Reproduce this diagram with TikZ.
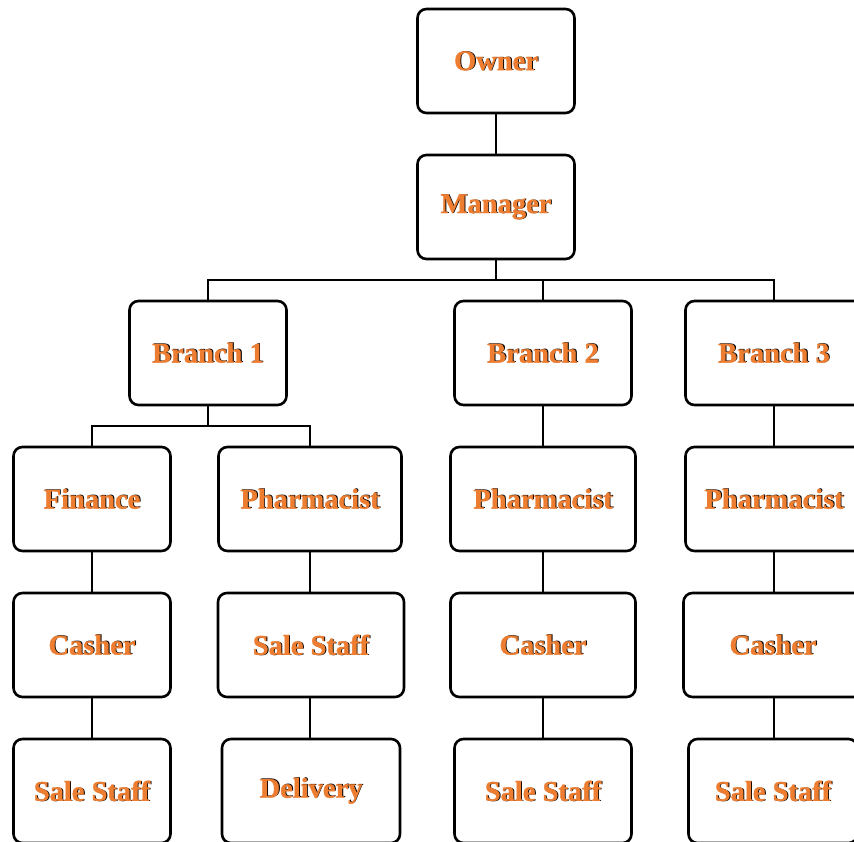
\documentclass[tikz,border=0pt]{standalone}
\usepackage{fontspec}
\setmainfont{Liberation Serif}
\newfontfamily\orafont[FakeBold=1.2]{Liberation Serif Bold}
\definecolor{ora}{RGB}{237,125,49}
\newcommand\shtext[1]{\leavevmode\rlap{\hspace{1.2pt}\raisebox{-0.3pt}{#1}}{\orafont\textcolor{ora}{#1}}}
\tikzset{
  box/.style={draw, line width=2.6pt, rounded corners=9pt, minimum height=104pt, inner sep=0pt, fill=white,
    font=\fontsize{28.5}{30}\selectfont\bfseries},
  conn/.style={line width=2pt}
}
\begin{document}
\begin{tikzpicture}[x=1pt,y=-1pt]
\useasboundingbox (0,0) rectangle (854,841);
% connectors first
\coordinate (bus1) at (496,280);
\coordinate (bus2) at (208,426);
\draw[conn] (496,61) -- (496,207);
\draw[conn] (496,207) -- (bus1);
\draw[conn] (208,353) |- (bus1) -| (774,353);
\draw[conn] (543,280) -- (543,353);
\draw[conn] (208,353) -- (bus2);
\draw[conn] (92,499) |- (bus2) -| (310,499);
\foreach \x in {92,310,543,774}{\draw[conn] (\x,499) -- (\x,791);}
\draw[conn] (543,353) -- (543,499);
\draw[conn] (774,353) -- (774,499);
% nodes
\node[box, minimum width=157pt] (owner) at (496,61) {\shtext{Owner}};
\node[box, minimum width=157pt] (manager) at (496,207) {\shtext{Manager}};
\node[box, minimum width=157pt] (b1) at (208,353) {\shtext{Branch 1}};
\node[box, minimum width=177pt] (b2) at (543,353) {\shtext{Branch 2}};
\node[box, minimum width=177pt] (b3) at (774,353) {\shtext{Branch 3}};
\node[box, minimum width=157pt] (fin) at (92,499) {\shtext{Finance}};
\node[box, minimum width=183pt] (ph1) at (310,499) {\shtext{Pharmacist}};
\node[box, minimum width=185pt] (ph2) at (543,499) {\shtext{Pharmacist}};
\node[box, minimum width=177pt] (ph3) at (774,499) {\shtext{Pharmacist}};
\node[box, minimum width=157pt] (c1) at (92,645) {\shtext{Casher}};
\node[box, minimum width=186pt] (ss1) at (311,645) {\shtext{Sale Staff}};
\node[box, minimum width=185pt] (c2) at (543,645) {\shtext{Casher}};
\node[box, minimum width=179pt] (c3) at (773,645) {\shtext{Casher}};
\node[box, minimum width=157pt] (ss2) at (92,791) {\shtext{Sale Staff}};
\node[box, minimum width=178pt] (del) at (311,791) {\shtext{Delivery}};
\node[box, minimum width=177pt] (ss3) at (543,791) {\shtext{Sale Staff}};
\node[box, minimum width=169pt] (ss4) at (773,791) {\shtext{Sale Staff}};
\end{tikzpicture}
\end{document}
